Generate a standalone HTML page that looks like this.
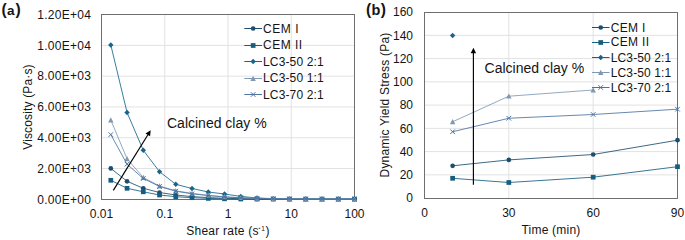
<!DOCTYPE html>
<html><head><meta charset="utf-8"><style>
html,body{margin:0;padding:0;background:#fff;}
svg{display:block;}
text{font-family:"Liberation Sans", sans-serif;font-size:12px;fill:#141414;}
</style></head><body>
<svg width="685" height="240" viewBox="0 0 685 240">
<rect width="685" height="240" fill="#fff"/>
<g>
<line x1="164.75" y1="14.5" x2="164.75" y2="199.5" stroke="#e2e2e2" stroke-width="1"/>
<line x1="228.00" y1="14.5" x2="228.00" y2="199.5" stroke="#e2e2e2" stroke-width="1"/>
<line x1="291.25" y1="14.5" x2="291.25" y2="199.5" stroke="#e2e2e2" stroke-width="1"/>
<line x1="101.5" y1="168.52" x2="354.5" y2="168.52" stroke="#e2e2e2" stroke-width="1"/>
<line x1="101.5" y1="137.73" x2="354.5" y2="137.73" stroke="#e2e2e2" stroke-width="1"/>
<line x1="101.5" y1="106.95" x2="354.5" y2="106.95" stroke="#e2e2e2" stroke-width="1"/>
<line x1="101.5" y1="76.17" x2="354.5" y2="76.17" stroke="#e2e2e2" stroke-width="1"/>
<line x1="101.5" y1="45.38" x2="354.5" y2="45.38" stroke="#e2e2e2" stroke-width="1"/>
<rect x="101.5" y="14.5" width="253.0" height="185.0" fill="none" stroke="#6f6f6f" stroke-width="1"/>
<path d="M110.80 168.40L127.05 181.30L143.29 188.30L159.54 192.50L175.79 195.00L192.03 196.60L208.28 197.60L224.53 198.30L240.77 198.70L257.02 198.90L273.27 199.00L289.51 199.10L305.76 199.10L322.01 199.10L338.25 199.10L354.50 199.10" stroke="#1c4e6f" stroke-width="0.85" fill="none" stroke-linejoin="round"/>
<circle cx="110.80" cy="168.40" r="2.35" fill="#1c4e6f"/>
<circle cx="127.05" cy="181.30" r="2.35" fill="#1c4e6f"/>
<circle cx="143.29" cy="188.30" r="2.35" fill="#1c4e6f"/>
<circle cx="159.54" cy="192.50" r="2.35" fill="#1c4e6f"/>
<circle cx="175.79" cy="195.00" r="2.35" fill="#1c4e6f"/>
<circle cx="192.03" cy="196.60" r="2.35" fill="#1c4e6f"/>
<circle cx="208.28" cy="197.60" r="2.35" fill="#1c4e6f"/>
<circle cx="224.53" cy="198.30" r="2.35" fill="#1c4e6f"/>
<circle cx="240.77" cy="198.70" r="2.35" fill="#1c4e6f"/>
<circle cx="257.02" cy="198.90" r="2.35" fill="#1c4e6f"/>
<circle cx="273.27" cy="199.00" r="2.35" fill="#1c4e6f"/>
<circle cx="289.51" cy="199.10" r="2.35" fill="#1c4e6f"/>
<circle cx="305.76" cy="199.10" r="2.35" fill="#1c4e6f"/>
<circle cx="322.01" cy="199.10" r="2.35" fill="#1c4e6f"/>
<circle cx="338.25" cy="199.10" r="2.35" fill="#1c4e6f"/>
<circle cx="354.50" cy="199.10" r="2.35" fill="#1c4e6f"/>
<path d="M110.80 180.30L127.05 188.30L143.29 191.80L159.54 195.00L175.79 196.70L192.03 197.70L208.28 198.40L224.53 198.80L240.77 199.00L257.02 199.10L273.27 199.10L289.51 199.10L305.76 199.10L322.01 199.10L338.25 199.10L354.50 199.10" stroke="#175d7f" stroke-width="0.85" fill="none" stroke-linejoin="round"/>
<rect x="108.45" y="177.95" width="4.7" height="4.7" fill="#175d7f"/>
<rect x="124.70" y="185.95" width="4.7" height="4.7" fill="#175d7f"/>
<rect x="140.94" y="189.45" width="4.7" height="4.7" fill="#175d7f"/>
<rect x="157.19" y="192.65" width="4.7" height="4.7" fill="#175d7f"/>
<rect x="173.44" y="194.35" width="4.7" height="4.7" fill="#175d7f"/>
<rect x="189.68" y="195.35" width="4.7" height="4.7" fill="#175d7f"/>
<rect x="205.93" y="196.05" width="4.7" height="4.7" fill="#175d7f"/>
<rect x="222.18" y="196.45" width="4.7" height="4.7" fill="#175d7f"/>
<rect x="238.42" y="196.65" width="4.7" height="4.7" fill="#175d7f"/>
<rect x="254.67" y="196.75" width="4.7" height="4.7" fill="#175d7f"/>
<rect x="270.92" y="196.75" width="4.7" height="4.7" fill="#175d7f"/>
<rect x="287.16" y="196.75" width="4.7" height="4.7" fill="#175d7f"/>
<rect x="303.41" y="196.75" width="4.7" height="4.7" fill="#175d7f"/>
<rect x="319.66" y="196.75" width="4.7" height="4.7" fill="#175d7f"/>
<rect x="335.90" y="196.75" width="4.7" height="4.7" fill="#175d7f"/>
<rect x="352.15" y="196.75" width="4.7" height="4.7" fill="#175d7f"/>
<path d="M110.80 45.00L127.05 112.50L143.29 150.30L159.54 171.70L175.79 184.30L192.03 188.50L208.28 192.00L224.53 194.00L240.77 196.40L257.02 198.00L273.27 198.60L289.51 198.90L305.76 199.00L322.01 199.10L338.25 199.10L354.50 199.10" stroke="#17658d" stroke-width="0.85" fill="none" stroke-linejoin="round"/>
<path d="M110.80 42.30L113.50 45.00L110.80 47.70L108.10 45.00Z" fill="#17658d"/>
<path d="M127.05 109.80L129.75 112.50L127.05 115.20L124.35 112.50Z" fill="#17658d"/>
<path d="M143.29 147.60L145.99 150.30L143.29 153.00L140.59 150.30Z" fill="#17658d"/>
<path d="M159.54 169.00L162.24 171.70L159.54 174.40L156.84 171.70Z" fill="#17658d"/>
<path d="M175.79 181.60L178.49 184.30L175.79 187.00L173.09 184.30Z" fill="#17658d"/>
<path d="M192.03 185.80L194.73 188.50L192.03 191.20L189.33 188.50Z" fill="#17658d"/>
<path d="M208.28 189.30L210.98 192.00L208.28 194.70L205.58 192.00Z" fill="#17658d"/>
<path d="M224.53 191.30L227.23 194.00L224.53 196.70L221.83 194.00Z" fill="#17658d"/>
<path d="M240.77 193.70L243.47 196.40L240.77 199.10L238.07 196.40Z" fill="#17658d"/>
<path d="M257.02 195.30L259.72 198.00L257.02 200.70L254.32 198.00Z" fill="#17658d"/>
<path d="M273.27 195.90L275.97 198.60L273.27 201.30L270.57 198.60Z" fill="#17658d"/>
<path d="M289.51 196.20L292.21 198.90L289.51 201.60L286.81 198.90Z" fill="#17658d"/>
<path d="M305.76 196.30L308.46 199.00L305.76 201.70L303.06 199.00Z" fill="#17658d"/>
<path d="M322.01 196.40L324.71 199.10L322.01 201.80L319.31 199.10Z" fill="#17658d"/>
<path d="M338.25 196.40L340.95 199.10L338.25 201.80L335.55 199.10Z" fill="#17658d"/>
<path d="M354.50 196.40L357.20 199.10L354.50 201.80L351.80 199.10Z" fill="#17658d"/>
<path d="M110.80 120.00L127.05 158.80L143.29 177.50L159.54 186.00L175.79 190.80L192.03 193.40L208.28 195.30L224.53 196.80L240.77 197.70L257.02 198.30L273.27 198.70L289.51 198.90L305.76 199.00L322.01 199.10L338.25 199.10L354.50 199.10" stroke="#7f98b2" stroke-width="0.85" fill="none" stroke-linejoin="round"/>
<path d="M110.80 117.30L113.50 122.40L108.10 122.40Z" fill="#7f98b2"/>
<path d="M127.05 156.10L129.75 161.20L124.35 161.20Z" fill="#7f98b2"/>
<path d="M143.29 174.80L145.99 179.90L140.59 179.90Z" fill="#7f98b2"/>
<path d="M159.54 183.30L162.24 188.40L156.84 188.40Z" fill="#7f98b2"/>
<path d="M175.79 188.10L178.49 193.20L173.09 193.20Z" fill="#7f98b2"/>
<path d="M192.03 190.70L194.73 195.80L189.33 195.80Z" fill="#7f98b2"/>
<path d="M208.28 192.60L210.98 197.70L205.58 197.70Z" fill="#7f98b2"/>
<path d="M224.53 194.10L227.23 199.20L221.83 199.20Z" fill="#7f98b2"/>
<path d="M240.77 195.00L243.47 200.10L238.07 200.10Z" fill="#7f98b2"/>
<path d="M257.02 195.60L259.72 200.70L254.32 200.70Z" fill="#7f98b2"/>
<path d="M273.27 196.00L275.97 201.10L270.57 201.10Z" fill="#7f98b2"/>
<path d="M289.51 196.20L292.21 201.30L286.81 201.30Z" fill="#7f98b2"/>
<path d="M305.76 196.30L308.46 201.40L303.06 201.40Z" fill="#7f98b2"/>
<path d="M322.01 196.40L324.71 201.50L319.31 201.50Z" fill="#7f98b2"/>
<path d="M338.25 196.40L340.95 201.50L335.55 201.50Z" fill="#7f98b2"/>
<path d="M354.50 196.40L357.20 201.50L351.80 201.50Z" fill="#7f98b2"/>
<path d="M110.80 134.60L127.05 164.20L143.29 178.50L159.54 186.50L175.79 191.20L192.03 193.80L208.28 195.60L224.53 197.00L240.77 197.80L257.02 198.40L273.27 198.80L289.51 199.00L305.76 199.10L322.01 199.10L338.25 199.10L354.50 199.10" stroke="#4c72a2" stroke-width="0.85" fill="none" stroke-linejoin="round"/>
<path d="M108.50 132.30L113.10 136.90M113.10 132.30L108.50 136.90" stroke="#4c72a2" stroke-width="1" fill="none"/>
<path d="M124.75 161.90L129.35 166.50M129.35 161.90L124.75 166.50" stroke="#4c72a2" stroke-width="1" fill="none"/>
<path d="M140.99 176.20L145.59 180.80M145.59 176.20L140.99 180.80" stroke="#4c72a2" stroke-width="1" fill="none"/>
<path d="M157.24 184.20L161.84 188.80M161.84 184.20L157.24 188.80" stroke="#4c72a2" stroke-width="1" fill="none"/>
<path d="M173.49 188.90L178.09 193.50M178.09 188.90L173.49 193.50" stroke="#4c72a2" stroke-width="1" fill="none"/>
<path d="M189.73 191.50L194.33 196.10M194.33 191.50L189.73 196.10" stroke="#4c72a2" stroke-width="1" fill="none"/>
<path d="M205.98 193.30L210.58 197.90M210.58 193.30L205.98 197.90" stroke="#4c72a2" stroke-width="1" fill="none"/>
<path d="M222.23 194.70L226.83 199.30M226.83 194.70L222.23 199.30" stroke="#4c72a2" stroke-width="1" fill="none"/>
<path d="M238.47 195.50L243.07 200.10M243.07 195.50L238.47 200.10" stroke="#4c72a2" stroke-width="1" fill="none"/>
<path d="M254.72 196.10L259.32 200.70M259.32 196.10L254.72 200.70" stroke="#4c72a2" stroke-width="1" fill="none"/>
<path d="M270.97 196.50L275.57 201.10M275.57 196.50L270.97 201.10" stroke="#4c72a2" stroke-width="1" fill="none"/>
<path d="M287.21 196.70L291.81 201.30M291.81 196.70L287.21 201.30" stroke="#4c72a2" stroke-width="1" fill="none"/>
<path d="M303.46 196.80L308.06 201.40M308.06 196.80L303.46 201.40" stroke="#4c72a2" stroke-width="1" fill="none"/>
<path d="M319.71 196.80L324.31 201.40M324.31 196.80L319.71 201.40" stroke="#4c72a2" stroke-width="1" fill="none"/>
<path d="M335.95 196.80L340.55 201.40M340.55 196.80L335.95 201.40" stroke="#4c72a2" stroke-width="1" fill="none"/>
<path d="M352.20 196.80L356.80 201.40M356.80 196.80L352.20 201.40" stroke="#4c72a2" stroke-width="1" fill="none"/>
</g>
<text x="91" y="203.60" text-anchor="end" textLength="53.7" lengthAdjust="spacing">0.00E+00</text>
<text x="91" y="172.82" text-anchor="end" textLength="53.7" lengthAdjust="spacing">2.00E+03</text>
<text x="91" y="142.03" text-anchor="end" textLength="53.7" lengthAdjust="spacing">4.00E+03</text>
<text x="91" y="111.25" text-anchor="end" textLength="53.7" lengthAdjust="spacing">6.00E+03</text>
<text x="91" y="80.47" text-anchor="end" textLength="53.7" lengthAdjust="spacing">8.00E+03</text>
<text x="91" y="49.68" text-anchor="end" textLength="53.7" lengthAdjust="spacing">1.00E+04</text>
<text x="91" y="18.90" text-anchor="end" textLength="53.7" lengthAdjust="spacing">1.20E+04</text>
<text x="101.50" y="217.6" text-anchor="middle">0.01</text>
<text x="164.75" y="217.6" text-anchor="middle">0.1</text>
<text x="228.00" y="217.6" text-anchor="middle">1</text>
<text x="291.25" y="217.6" text-anchor="middle">10</text>
<text x="354.50" y="217.6" text-anchor="middle">100</text>
<text x="186.2" y="235.1" textLength="72.4" lengthAdjust="spacing">Shear rate (s</text>
<rect x="258.7" y="227.8" width="1.6" height="0.9" fill="#222"/><text x="261.3" y="230.8" style="font-size:6.5px">1</text>
<text x="265.6" y="235.1">)</text>
<text transform="translate(32.3 107.1) rotate(-90)" text-anchor="middle" textLength="85.4" lengthAdjust="spacing">Viscosity (Pa·s)</text>
<line x1="244.3" y1="28.5" x2="262" y2="28.5" stroke="#1c4e6f" stroke-width="1"/>
<circle cx="253.15" cy="28.50" r="2.35" fill="#1c4e6f"/>
<text x="263.0" y="32.80" textLength="35.5" lengthAdjust="spacing">CEM I</text>
<line x1="244.3" y1="45.5" x2="262" y2="45.5" stroke="#175d7f" stroke-width="1"/>
<rect x="250.80" y="43.15" width="4.7" height="4.7" fill="#175d7f"/>
<text x="263.0" y="48.90" textLength="39.2" lengthAdjust="spacing">CEM II</text>
<line x1="244.3" y1="61.5" x2="262" y2="61.5" stroke="#17658d" stroke-width="1"/>
<path d="M253.15 58.80L255.85 61.50L253.15 64.20L250.45 61.50Z" fill="#17658d"/>
<text x="263.0" y="65.60" textLength="60.7" lengthAdjust="spacing">LC3-50 2:1</text>
<line x1="244.3" y1="78.5" x2="262" y2="78.5" stroke="#7f98b2" stroke-width="1"/>
<path d="M253.15 75.80L255.85 80.90L250.45 80.90Z" fill="#7f98b2"/>
<text x="263.0" y="82.10" textLength="60.7" lengthAdjust="spacing">LC3-50 1:1</text>
<line x1="244.3" y1="94.5" x2="262" y2="94.5" stroke="#4c72a2" stroke-width="1"/>
<path d="M250.85 92.20L255.45 96.80M255.45 92.20L250.85 96.80" stroke="#4c72a2" stroke-width="1" fill="none"/>
<text x="263.0" y="98.50" textLength="60.7" lengthAdjust="spacing">LC3-70 2:1</text>
<text x="167" y="128" style="font-size:14px">Calcined clay %</text>
<line x1="113.3" y1="190.4" x2="148.06" y2="134.45" stroke="#000" stroke-width="1.15"/><path d="M150.7 130.2L150.09 136.30L145.50 133.45Z" fill="#000"/>
<text x="1.4" y="15.4" style="font-size:15.6px;font-weight:bold">(<tspan style="font-size:13.5px" dx="0.5">a</tspan><tspan dx="0.9">)</tspan></text>
<line x1="508.83" y1="12.5" x2="508.83" y2="198.5" stroke="#e2e2e2" stroke-width="1"/>
<line x1="593.17" y1="12.5" x2="593.17" y2="198.5" stroke="#e2e2e2" stroke-width="1"/>
<line x1="424.5" y1="174.85" x2="677.5" y2="174.85" stroke="#e2e2e2" stroke-width="1"/>
<line x1="424.5" y1="151.60" x2="677.5" y2="151.60" stroke="#e2e2e2" stroke-width="1"/>
<line x1="424.5" y1="128.35" x2="677.5" y2="128.35" stroke="#e2e2e2" stroke-width="1"/>
<line x1="424.5" y1="105.10" x2="677.5" y2="105.10" stroke="#e2e2e2" stroke-width="1"/>
<line x1="424.5" y1="81.85" x2="677.5" y2="81.85" stroke="#e2e2e2" stroke-width="1"/>
<line x1="424.5" y1="58.60" x2="677.5" y2="58.60" stroke="#e2e2e2" stroke-width="1"/>
<line x1="424.5" y1="35.35" x2="677.5" y2="35.35" stroke="#e2e2e2" stroke-width="1"/>
<rect x="424.5" y="12.5" width="253.0" height="186.00" fill="none" stroke="#6f6f6f" stroke-width="1"/>
<path d="M452.61 165.80L508.83 159.90L593.17 154.50L677.50 140.20" stroke="#1c4e6f" stroke-width="0.85" fill="none" stroke-linejoin="round"/>
<circle cx="452.61" cy="165.80" r="2.35" fill="#1c4e6f"/>
<circle cx="508.83" cy="159.90" r="2.35" fill="#1c4e6f"/>
<circle cx="593.17" cy="154.50" r="2.35" fill="#1c4e6f"/>
<circle cx="677.50" cy="140.20" r="2.35" fill="#1c4e6f"/>
<path d="M452.61 178.30L508.83 182.50L593.17 177.20L677.50 166.70" stroke="#175d7f" stroke-width="0.85" fill="none" stroke-linejoin="round"/>
<rect x="450.26" y="175.95" width="4.7" height="4.7" fill="#175d7f"/>
<rect x="506.48" y="180.15" width="4.7" height="4.7" fill="#175d7f"/>
<rect x="590.82" y="174.85" width="4.7" height="4.7" fill="#175d7f"/>
<rect x="675.15" y="164.35" width="4.7" height="4.7" fill="#175d7f"/>
<path d="M452.61 32.80L455.31 35.50L452.61 38.20L449.91 35.50Z" fill="#17658d"/>
<path d="M452.61 121.75L508.83 96.20L593.17 90.00" stroke="#7f98b2" stroke-width="0.85" fill="none" stroke-linejoin="round"/>
<path d="M452.61 119.05L455.31 124.15L449.91 124.15Z" fill="#7f98b2"/>
<path d="M508.83 93.50L511.53 98.60L506.13 98.60Z" fill="#7f98b2"/>
<path d="M593.17 87.30L595.87 92.40L590.47 92.40Z" fill="#7f98b2"/>
<path d="M452.61 131.75L508.83 118.25L593.17 114.50L677.50 109.20" stroke="#4c72a2" stroke-width="0.85" fill="none" stroke-linejoin="round"/>
<path d="M450.31 129.45L454.91 134.05M454.91 129.45L450.31 134.05" stroke="#4c72a2" stroke-width="1" fill="none"/>
<path d="M506.53 115.95L511.13 120.55M511.13 115.95L506.53 120.55" stroke="#4c72a2" stroke-width="1" fill="none"/>
<path d="M590.87 112.20L595.47 116.80M595.47 112.20L590.87 116.80" stroke="#4c72a2" stroke-width="1" fill="none"/>
<path d="M675.20 106.90L679.80 111.50M679.80 106.90L675.20 111.50" stroke="#4c72a2" stroke-width="1" fill="none"/>
<text x="413" y="202.40" text-anchor="end">0</text>
<text x="413" y="179.15" text-anchor="end">20</text>
<text x="413" y="155.90" text-anchor="end">40</text>
<text x="413" y="132.65" text-anchor="end">60</text>
<text x="413" y="109.40" text-anchor="end">80</text>
<text x="413" y="86.15" text-anchor="end">100</text>
<text x="413" y="62.90" text-anchor="end">120</text>
<text x="413" y="39.65" text-anchor="end">140</text>
<text x="413" y="16.40" text-anchor="end">160</text>
<text x="424.50" y="216.8" text-anchor="middle">0</text>
<text x="508.83" y="216.8" text-anchor="middle">30</text>
<text x="593.17" y="216.8" text-anchor="middle">60</text>
<text x="677.50" y="216.8" text-anchor="middle">90</text>
<text x="521.5" y="233.8" textLength="58.8" lengthAdjust="spacing">Time (min)</text>
<text transform="translate(389 105.1) rotate(-90)" text-anchor="middle" textLength="144.8" lengthAdjust="spacing">Dynamic Yield Stress (Pa)</text>
<line x1="592" y1="27.5" x2="609.5" y2="27.5" stroke="#1c4e6f" stroke-width="1"/>
<circle cx="600.75" cy="27.50" r="2.35" fill="#1c4e6f"/>
<text x="610.8" y="31.50" textLength="34.6" lengthAdjust="spacing">CEM I</text>
<line x1="592" y1="42.5" x2="609.5" y2="42.5" stroke="#175d7f" stroke-width="1"/>
<rect x="598.40" y="40.15" width="4.7" height="4.7" fill="#175d7f"/>
<text x="610.8" y="46.20" textLength="38.3" lengthAdjust="spacing">CEM II</text>
<line x1="592" y1="57.5" x2="609.5" y2="57.5" stroke="#17658d" stroke-width="1"/>
<path d="M600.75 54.80L603.45 57.50L600.75 60.20L598.05 57.50Z" fill="#17658d"/>
<text x="610.8" y="61.60" textLength="60.4" lengthAdjust="spacing">LC3-50 2:1</text>
<line x1="592" y1="72.5" x2="609.5" y2="72.5" stroke="#7f98b2" stroke-width="1"/>
<path d="M600.75 69.80L603.45 74.90L598.05 74.90Z" fill="#7f98b2"/>
<text x="610.8" y="77.10" textLength="60.4" lengthAdjust="spacing">LC3-50 1:1</text>
<line x1="592" y1="87.5" x2="609.5" y2="87.5" stroke="#4c72a2" stroke-width="1"/>
<path d="M598.45 85.20L603.05 89.80M603.05 85.20L598.45 89.80" stroke="#4c72a2" stroke-width="1" fill="none"/>
<text x="610.8" y="92.00" textLength="60.4" lengthAdjust="spacing">LC3-70 2:1</text>
<text x="484.6" y="73.2" style="font-size:14px">Calcined clay %</text>
<line x1="473.4" y1="184.8" x2="473.40" y2="52.70" stroke="#000" stroke-width="1.15"/><path d="M473.4 47.7L476.10 53.20L470.70 53.20Z" fill="#000"/>
<text x="366" y="15.2" style="font-size:15.6px;font-weight:bold">(<tspan style="font-size:14.5px" dx="0.3">b</tspan><tspan dx="0.3">)</tspan></text>
</svg>
</body></html>
